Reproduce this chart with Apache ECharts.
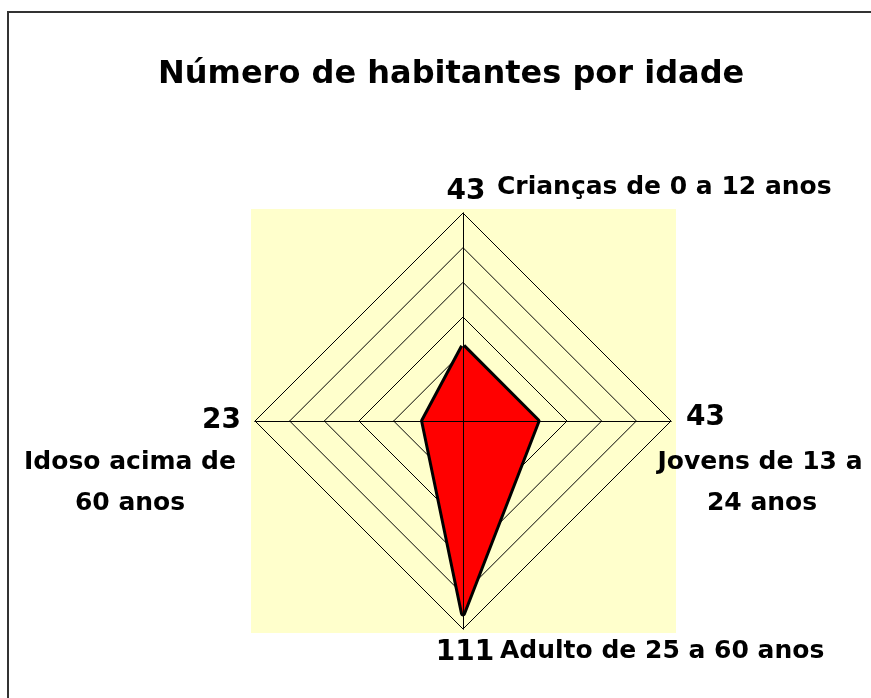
<!DOCTYPE html>
<html>
<head>
<meta charset="utf-8">
<title>Número de habitantes por idade</title>
<script src="https://cdn.jsdelivr.net/npm/echarts@6/dist/echarts.min.js"></script>
<style>
  html, body { margin: 0; padding: 0; background: #fff; }
  #chart { width: 871px; height: 698px; }
</style>
</head>
<body>
<div id="chart"></div>
<script>
// categorias na ordem do radar (topo, esquerda, baixo, direita)
const categories = ['Crianças de 0 a 12 anos', 'Idoso acima de 60 anos', 'Adulto de 25 a 60 anos', 'Jovens de 13 a 24 anos'];
const values = [43, 23, 111, 43];
const axisMax = 120;
const rings = 6;

const font = '"DejaVu Sans", sans-serif';

// texto em negrito, posicionado pelo ponto de ancoragem
function txt(text, x, y, size, align) {
  return {
    type: 'text', x: x, y: y,
    style: {
      text: text, fontFamily: font, fontWeight: 'bold', fontSize: size, fill: '#000',
      align: align, verticalAlign: 'middle'
    }
  };
}

const myChart = echarts.init(document.getElementById('chart'));

// textos dos eixos (valor + nome)
const labels = [
  // topo
  txt(String(values[0]), 466, 192, 28, 'center'),
  txt(categories[0], 497, 187, 25, 'left'),
  // esquerda
  txt(String(values[1]), 241, 421, 28, 'right'),
  txt('Idoso acima de', 130, 462, 25, 'center'),
  txt('60 anos', 130, 503, 25, 'center'),
  // baixo
  txt(String(values[2]), 465, 653, 28, 'center'),
  txt(categories[2], 500, 651, 25, 'left'),
  // direita
  txt(String(values[3]), 686, 418, 28, 'left'),
  txt('Jovens de 13 a', 760, 462, 25, 'center'),
  txt('24 anos', 762, 503, 25, 'center')
];

const indicator = categories.map(function (n) { return { name: n, max: axisMax, min: 0 }; });
const radarBase = {
  center: [463, 421],
  radius: 208,
  startAngle: 90,
  shape: 'polygon',
  splitNumber: rings,
  indicator: indicator,
  axisName: { show: false },
  splitArea: { show: false }
};

myChart.setOption({
  backgroundColor: '#fff',
  title: {
    text: 'Número de habitantes por idade',
    left: 153,
    top: 54,
    textStyle: { fontFamily: font, fontWeight: 'bold', fontSize: 32, color: '#000' }
  },
  graphic: [
    // moldura
    { type: 'rect', shape: { x: 8, y: 12, width: 900, height: 720 }, style: { fill: 'none', stroke: '#333', lineWidth: 2 }, z: -10 },
    // area amarela do grafico
    { type: 'rect', shape: { x: 251, y: 209, width: 425, height: 424 }, style: { fill: '#FFFFCC' }, z: -5 }
  ].concat(labels),
  radar: [
    // aneis (por baixo da area)
    Object.assign({}, radarBase, {
      z: 1,
      axisLine: { lineStyle: { color: '#000', width: 1 } },
      splitLine: { lineStyle: { color: '#000', width: 1 } }
    }),
    // eixos por cima da area
    Object.assign({}, radarBase, {
      z: 10,
      axisLine: { lineStyle: { color: '#000', width: 1 } },
      splitLine: { show: false }
    })
  ],
  series: [{
    type: 'radar',
    radarIndex: 0,
    symbol: 'none',
    silent: true,
    z: 5,
    data: [{
      value: values,
      lineStyle: { color: '#000', width: 6 },
      areaStyle: { color: '#FF0000', opacity: 1 }
    }]
  }]
});
</script>
</body>
</html>
